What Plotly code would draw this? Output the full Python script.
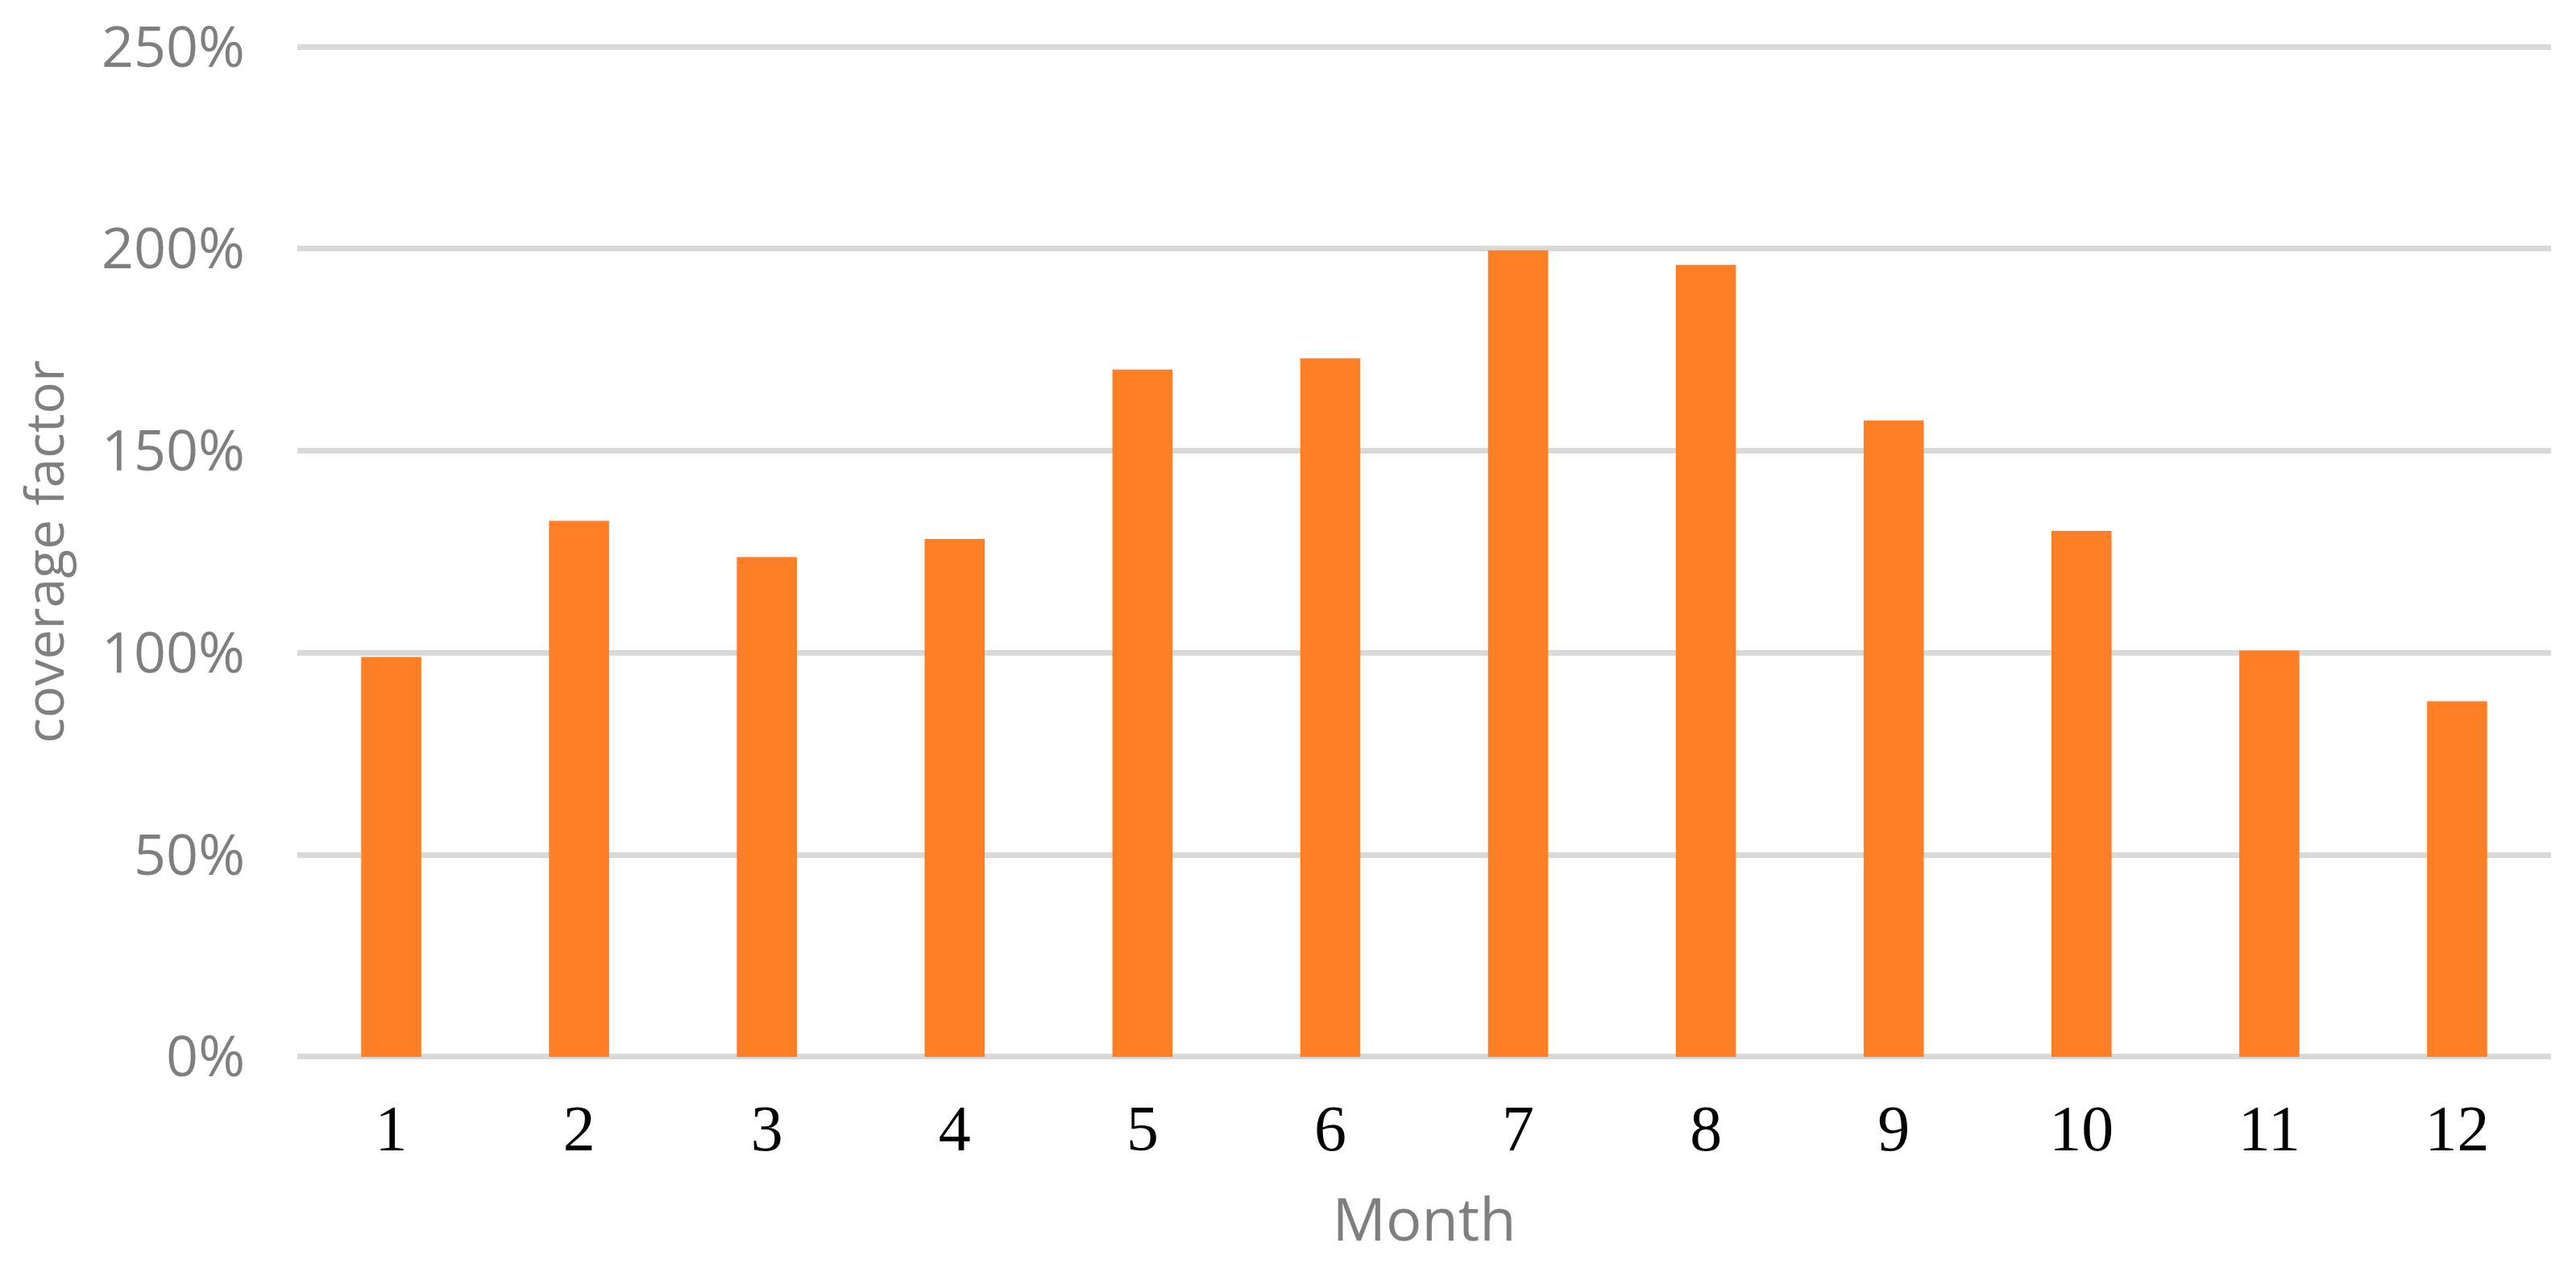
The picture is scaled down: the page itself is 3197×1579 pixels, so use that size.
import plotly.graph_objects as go

months = ["1", "2", "3", "4", "5", "6", "7", "8", "9", "10", "11", "12"]
coverage = [0.990, 1.327, 1.237, 1.282, 1.701, 1.729, 1.996, 1.960, 1.575, 1.302, 1.006, 0.880]
y_ticks = [0, 0.5, 1.0, 1.5, 2.0, 2.5]
y_tick_labels = ["0%", "50%", "100%", "150%", "200%", "250%"]

fig = go.Figure(
    go.Bar(
        x=months,
        y=coverage,
        marker=dict(color="#FF7F27", line=dict(width=0)),
    )
)

# page body has a default 8px margin; margins compensate for it
fig.update_layout(
    width=3197,
    height=1579,
    paper_bgcolor="white",
    plot_bgcolor="white",
    margin=dict(l=361, r=39, t=47, b=272),
    bargap=0.68,
    showlegend=False,
    font=dict(family="Open Sans", color="#7f7f7f"),
)

fig.update_xaxes(
    type="category",
    automargin=False,
    showgrid=False,
    showline=False,
    zeroline=False,
    ticks="",
    ticklabelstandoff=32,
    tickfont=dict(family="Liberation Serif", size=80, color="black"),
    title=dict(text="Month", font=dict(family="Open Sans", size=74, color="#7f7f7f"), standoff=44),
)

fig.update_yaxes(
    range=[-0.006, 2.506],
    automargin=False,
    tickvals=y_ticks,
    ticktext=y_tick_labels,
    ticklabeloverflow="allow",
    showgrid=True,
    gridcolor="#d9d9d9",
    gridwidth=7,
    zeroline=False,
    showline=False,
    ticks="",
    ticklabelstandoff=64,
    tickfont=dict(family="Open Sans", size=70, color="#7f7f7f"),
    title=dict(text="coverage factor", font=dict(family="Open Sans", size=66, color="#7f7f7f"), standoff=30),
)

fig.write_html("out.html")
